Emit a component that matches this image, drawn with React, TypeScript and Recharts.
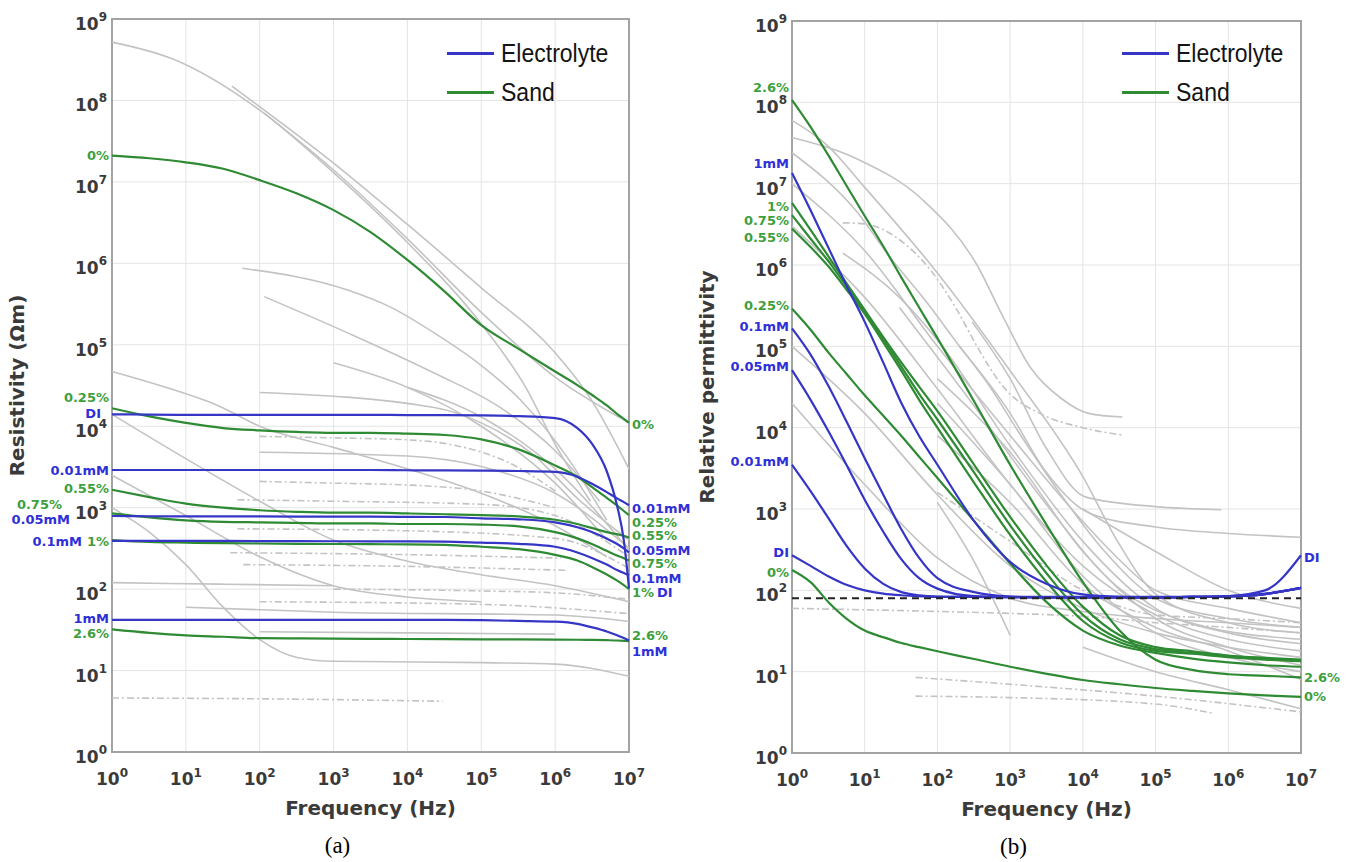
import React from 'react';
import { LineChart, Line, XAxis, YAxis, CartesianGrid, ReferenceLine, ReferenceArea, Legend } from 'recharts';

// ---------------- data ----------------
const X_TICKS = [1, 10, 100, 1e3, 1e4, 1e5, 1e6, 1e7];
const Y_TICKS = [1, 10, 100, 1e3, 1e4, 1e5, 1e6, 1e7, 1e8, 1e9];

// (a) resistivity (Ωm)
const RES_FREQ = [1, 3.2, 10, 32, 100, 320, 1e3, 3.2e3, 1e4, 3.2e4, 1e5, 3.2e5, 1e6, 2e6, 3.2e6, 5e6, 7e6, 8.5e6, 1e7];
const RES_SAND_0 = [2.1e7, 1.95e7, 1.74e7, 1.45e7, 1.05e7, 7.2e6, 4.5e6, 2.4e6, 1.1e6, 4.5e5, 1.74e5, 8.9e4, 4.7e4, 3.2e4, 2.4e4, 1.8e4, 1.4e4, 1.23e4, 1.1e4];
const RES_SAND_025 = [1.66e4, 1.32e4, 1.1e4, 9.5e3, 8.9e3, 8.5e3, 8.3e3, 8.3e3, 8.1e3, 7.8e3, 6.9e3, 5.2e3, 3.3e3, 2.4e3, 1.78e3, 1.32e3, 1.05e3, 910, 810];
const RES_SAND_055 = [1.66e3, 1.35e3, 1.12e3, 1e3, 930, 890, 870, 870, 850, 830, 810, 780, 710, 630, 560, 500, 470, 450, 430];
const RES_SAND_075 = [850, 760, 700, 670, 660, 650, 640, 640, 630, 630, 620, 590, 500, 420, 355, 295, 257, 240, 224];
const RES_SAND_1 = [400, 380, 372, 366, 363, 360, 358, 356, 355, 350, 331, 309, 263, 224, 186, 151, 126, 112, 100];
const RES_SAND_26 = [32, 29, 27, 26, 25, 24.8, 24.6, 24.5, 24.4, 24.3, 24.2, 24.1, 24, 23.9, 23.8, 23.6, 23.4, 23.2, 23];
const RES_EL_DI = [1.4e4, 1.39e4, 1.38e4, 1.38e4, 1.38e4, 1.38e4, 1.38e4, 1.38e4, 1.37e4, 1.37e4, 1.36e4, 1.33e4, 1.26e4, 9.5e3, 6e3, 2.8e3, 1e3, 400, 102];
const RES_EL_001 = [2.9e3, 2.9e3, 2.9e3, 2.9e3, 2.9e3, 2.9e3, 2.9e3, 2.9e3, 2.88e3, 2.87e3, 2.85e3, 2.82e3, 2.75e3, 2.4e3, 1.95e3, 1.55e3, 1.29e3, 1.17e3, 1.07e3];
const RES_EL_005 = [790, 785, 780, 780, 780, 778, 776, 775, 772, 768, 740, 720, 660, 575, 500, 417, 355, 316, 282];
const RES_EL_01 = [390, 390, 390, 390, 389, 388, 387, 386, 385, 383, 372, 360, 331, 282, 240, 200, 170, 158, 148];
const RES_EL_1 = [42, 42, 42, 42, 42, 42, 42, 42, 42, 41.8, 41.5, 40.7, 39.8, 37.5, 33.9, 30.2, 26.9, 25.1, 23.4];

// background (grey) resistivity curves: [frequency, value]
const RES_GRAY: number[][][] = [
  [[1, 5.2e8], [6.8, 3.2e8], [100, 7.6e7], [1e3, 1.3e7], [1e4, 1.8e6], [1e5, 1.8e5], [4e5, 3e4], [1e6, 6e3], [3e6, 1.2e3]],
  [[42, 1.5e8], [1e3, 1.7e7], [1e4, 3e6], [1e5, 5e5], [1e6, 8e4], [3e6, 2.2e4], [1e7, 3e3]],
  [[115, 7e7], [1e3, 1.4e7], [1e4, 2e6], [1e5, 2.5e5], [1e6, 4e4], [1e7, 1.1e4]],
  [[58, 8.7e5], [1550, 4.7e5], [5.9e3, 2.9e5], [2.3e4, 1.4e5], [9e4, 6e4], [3.4e5, 2.1e4], [1.5e6, 4e3], [5e6, 7e2]],
  [[115, 3.9e5], [1550, 1.4e5], [2.3e4, 4.5e4], [1.8e5, 1.7e4], [1e6, 5e3], [4e6, 1.2e3]],
  [[1, 4.7e4], [6.8, 2.8e4], [27, 1.8e4], [100, 1e4], [1e3, 5.5e3], [1e4, 3e3], [1e5, 1.5e3], [1e6, 6e2], [5e6, 2.5e2]],
  [[100, 2.6e4], [2.3e4, 1.7e4], [1e5, 1.1e4], [5e5, 4.5e3], [2e6, 1.3e3], [1e7, 4e2]],
  [[100, 7.5e3], [1e3, 7.2e3], [1e4, 6.8e3], [3e4, 6.2e3], [3e5, 3.2e3], [1e6, 1.6e3]],
  [[100, 4.8e3], [1e4, 4.3e3], [1e5, 3.2e3], [1e6, 1.5e3], [1e7, 3.2e2]],
  [[100, 2.1e3], [1e3, 2e3], [1e4, 1.9e3], [1e5, 1.6e3], [1e6, 1e3]],
  [[50, 1.25e3], [1e3, 1.2e3], [1e5, 1.1e3], [1e6, 8e2], [1e7, 2.5e2]],
  [[50, 5.5e2], [1e4, 5.2e2], [1e6, 4.2e2], [1e7, 1.8e2]],
  [[40, 2.8e2], [1e4, 2.65e2], [1.2e6, 2.4e2]],
  [[60, 2e2], [1e4, 1.9e2], [1.5e6, 1.7e2]],
  [[1, 1.2e2], [30, 1.15e2], [1e3, 1.1e2]],
  [[1e3, 1e2], [1e5, 9.5e1], [1e6, 9e1], [1e7, 7.5e1]],
  [[100, 7e1], [1e5, 6.5e1], [1e7, 5e1]],
  [[10, 6e1], [1e3, 5.2e1], [1e6, 4.8e1], [1e7, 4e1]],
  [[100, 3e1], [1e4, 2.9e1], [1e6, 2.8e1]],
  [[1, 1e3], [3.2, 5e2], [10, 2e2], [32, 6e1], [100, 2.4e1], [320, 1.45e1], [1e3, 1.3e1], [1e5, 1.25e1], [1e6, 1.2e1], [1e7, 8.5]],
  [[1, 4.6], [100, 4.5], [3e4, 4.2]],
  [[1, 1.4e4], [10, 4e3], [100, 1.2e3], [1e3, 4e2], [1e4, 2.2e2], [1e5, 1.5e2], [1e6, 1.1e2], [1e7, 7e1]],
  [[1, 2.5e3], [10, 8e2], [100, 2.5e2], [1e3, 1.1e2], [1e4, 8e1], [1e5, 7e1]],
  [[1e4, 3e4], [1e5, 1.3e4], [1e6, 3e3], [1e7, 3e2]],
  [[1e3, 6e4], [1e4, 3e4], [1e5, 1e4], [1e6, 2e3], [5e6, 4e2]],
];
const RES_GRAY_DASHED = [7, 9, 10, 11, 12, 13, 15, 16, 20];

// (b) relative permittivity
const PERM_FREQ = [1, 1.8, 3.2, 5.6, 10, 18, 32, 56, 100, 320, 1e3, 3.2e3, 1e4, 3.2e4, 1e5, 3.2e5, 1e6, 3.2e6, 1e7];
const PERM_SAND_26 = [1.07e8, 5e7, 2.2e7, 9.5e6, 4e6, 1.7e6, 7e5, 3e5, 1.26e5, 2.1e4, 3.5e3, 630, 126, 32, 14, 10.5, 9.3, 8.9, 8.5];
const PERM_SAND_1 = [5.8e6, 2.7e6, 1.26e6, 6e5, 2.8e5, 1.3e5, 6.3e4, 3.2e4, 1.6e4, 3.5e3, 800, 200, 63, 28, 20, 17.8, 15.8, 14.8, 14.1];
const PERM_SAND_075 = [4.1e6, 2.1e6, 1.1e6, 5.5e5, 2.6e5, 1.23e5, 5.6e4, 2.6e4, 1.26e4, 2.8e3, 630, 160, 50, 25, 19, 17, 15.5, 14.5, 13.8];
const PERM_SAND_055 = [2.8e6, 1.66e6, 9.5e5, 5e5, 2.5e5, 1.12e5, 5e4, 2.2e4, 1e4, 2.1e3, 480, 126, 42, 23, 18, 16.6, 15.1, 14.1, 13.5];
const PERM_SAND_025 = [2.9e5, 1.6e5, 8.3e4, 4.6e4, 2.5e4, 1.4e4, 7.9e3, 4.4e3, 2.4e3, 710, 214, 71, 32, 21, 17, 14.5, 13, 12, 11.5];
const PERM_SAND_0 = [178, 126, 71, 45, 32, 26.5, 22.5, 20, 17.8, 14.3, 11.5, 9.4, 7.9, 7.0, 6.3, 5.8, 5.4, 5.1, 4.9];
const PERM_EL_DI = [270, 200, 148, 117, 100, 91, 87, 85, 83, 83, 83, 83, 83, 83, 83, 83, 85, 100, 270];
const PERM_EL_001 = [3.5e3, 1.66e3, 760, 355, 186, 120, 95, 87, 84, 83, 82, 82, 82, 82, 82, 83, 84, 90, 107];
const PERM_EL_005 = [5.1e4, 2.2e4, 8.9e3, 3.5e3, 1.3e3, 525, 240, 141, 105, 85, 83, 82, 82, 82, 82, 83, 84, 90, 107];
const PERM_EL_01 = [1.66e5, 7.9e4, 3.2e4, 1.2e4, 4.2e3, 1.5e3, 560, 250, 141, 95, 84, 82, 82, 82, 82, 83, 84, 90, 107];
const PERM_EL_1 = [1.35e7, 4.7e6, 1.6e6, 5.6e5, 2e5, 6.3e4, 2e4, 7.9e3, 3.5e3, 710, 224, 120, 89, 83, 82, 83, 85, 91, 107];
const WATER_PERMITTIVITY = 80;

const PERM_GRAY: number[][][] = [
  [[1, 3.7e7], [8, 2e7], [63, 6.3e6], [350, 1e6], [800, 2.3e5], [1900, 5.5e4], [5000, 2.3e4], [1.2e4, 1.5e4], [3.5e4, 1.35e4]],
  [[5, 3.3e6], [10, 3.2e6], [31, 2e6], [80, 8.7e5], [186, 2.8e5], [350, 1e5], [800, 3.2e4], [3000, 1.4e4], [1e4, 1e4], [3.5e4, 8.1e3]],
  [[1, 2.4e7], [8, 4.4e6], [22, 1.26e6], [63, 4e5], [186, 1.1e5], [525, 3.2e4], [1260, 9.3e3], [5000, 1.5e3], [2e4, 300], [1e5, 80], [1e6, 45], [1e7, 35]],
  [[1, 6e7], [3, 3e7], [10, 9e6], [100, 8e5], [1e3, 5e4], [1e4, 2.5e3], [3e4, 400], [1e5, 90], [1e6, 40], [1e7, 30]],
  [[5, 1.4e6], [30, 4e5], [100, 1.2e5], [1e3, 6e3], [1e4, 400], [1e5, 60], [1e6, 30], [1e7, 22]],
  [[1, 1e7], [10, 1.5e6], [100, 1e5], [1e3, 8e3], [1e4, 700], [3e4, 250], [1e5, 100], [1e6, 60], [1e7, 40]],
  [[1, 3e6], [10, 4e5], [100, 3e4], [1e3, 2e3], [1e4, 200], [1e5, 50], [1e6, 25], [1e7, 18]],
  [[300, 2e5], [1e3, 4e4], [3e3, 6e3], [1.1e4, 1.4e3], [1e5, 1.07e3], [8e5, 9.8e2]],
  [[200, 1e5], [1e3, 1.5e4], [3e3, 3e3], [1.2e4, 9e2], [1e5, 6e2], [1e6, 5e2], [1e7, 4.5e2]],
  [[100, 1.2e3], [300, 2.5e2], [1e3, 2.8e1]],
  [[1, 6e1], [100, 5.5e1], [1e3, 5.2e1], [1e4, 4.8e1], [1e5, 4e1], [1e6, 3.5e1], [1e7, 3e1]],
  [[50, 8.5], [1e3, 7], [1e5, 5], [1e7, 3.2]],
  [[50, 5], [1e3, 4.8], [1e5, 4], [6e5, 3.1]],
  [[100, 2e4], [1e3, 2e3], [1e4, 150], [1e5, 30], [1e6, 15], [1e7, 10]],
  [[100, 4e4], [1e3, 5e3], [1e4, 300], [1e5, 45], [1e6, 20], [1e7, 12]],
  [[100, 8e3], [1e3, 1.2e3], [1e4, 120], [1e5, 35], [1e6, 18], [1e7, 8]],
  [[30, 3e5], [300, 2e4], [3e3, 1.2e3], [3e4, 110], [3e5, 40], [1e7, 25]],
  [[1, 1e5], [10, 1.5e4], [100, 1.5e3], [1e3, 200], [1e4, 60], [1e5, 30], [1e6, 20], [1e7, 15]],
  [[1, 2e4], [10, 2e3], [100, 250], [1e3, 80], [1e4, 55], [1e5, 45], [1e6, 40], [1e7, 35]],
  [[100, 1.6e3], [1e3, 400], [1e4, 100], [1e5, 50], [1e6, 45], [1e7, 40]],
  [[1e4, 1e3], [1e5, 300], [1e6, 100], [1e7, 60]],
  [[1e4, 20], [1e5, 10], [1e6, 6], [1e7, 3.5]],
];
const PERM_GRAY_DASHED = [1, 10, 11, 12, 19];

const LEGEND_NAMES = ['Electrolyte', 'Sand'];

// ---------------- style ----------------
const BLUE = '#3535c6';
const GREEN = '#2f8a34';
const BLUE_TXT = '#2f2fd8';
const GREEN_TXT = '#3d9f3d';
const GRAY = '#c3c3c3';
const FONT = 'DejaVu Sans, Verdana, sans-serif';
const TXT = '#3a3a3a';

type Meta = { label: string; kind: 'el' | 'sand'; values: number[]; left?: [number, number]; right?: [number, number] };

const RES_SERIES: Meta[] = [
  { label: '0%', kind: 'sand', values: RES_SAND_0, left: [-3, 0], right: [3, 2] },
  { label: '0.25%', kind: 'sand', values: RES_SAND_025, left: [-3, -11], right: [3, 7] },
  { label: '0.55%', kind: 'sand', values: RES_SAND_055, left: [-3, -1], right: [3, -2] },
  { label: '0.75%', kind: 'sand', values: RES_SAND_075, left: [-50, -9], right: [3, 3] },
  { label: '1%', kind: 'sand', values: RES_SAND_1, left: [-3, 1], right: [3, 3] },
  { label: '2.6%', kind: 'sand', values: RES_SAND_26, left: [-3, 4], right: [3, -6] },
  { label: 'DI', kind: 'el', values: RES_EL_DI, left: [-11, -1], right: [28, 4] },
  { label: '0.01mM', kind: 'el', values: RES_EL_001, left: [-3, 0], right: [3, 3] },
  { label: '0.05mM', kind: 'el', values: RES_EL_005, left: [-42, 3], right: [3, -2] },
  { label: '0.1mM', kind: 'el', values: RES_EL_01, left: [-30, 1], right: [3, 3] },
  { label: '1mM', kind: 'el', values: RES_EL_1, left: [-3, -1], right: [3, 11] },
];

const PERM_SERIES: Meta[] = [
  { label: '2.6%', kind: 'sand', values: PERM_SAND_26, left: [-3, -12], right: [3, 0] },
  { label: '1%', kind: 'sand', values: PERM_SAND_1, left: [-3, 4] },
  { label: '0.75%', kind: 'sand', values: PERM_SAND_075, left: [-3, 5] },
  { label: '0.55%', kind: 'sand', values: PERM_SAND_055, left: [-3, 9] },
  { label: '0.25%', kind: 'sand', values: PERM_SAND_025, left: [-3, -3] },
  { label: '0%', kind: 'sand', values: PERM_SAND_0, left: [-3, 3], right: [3, 0] },
  { label: '1mM', kind: 'el', values: PERM_EL_1, left: [-3, -10] },
  { label: '0.1mM', kind: 'el', values: PERM_EL_01, left: [-3, -2] },
  { label: '0.05mM', kind: 'el', values: PERM_EL_005, left: [-3, -4] },
  { label: '0.01mM', kind: 'el', values: PERM_EL_001, left: [-3, -3] },
  { label: 'DI', kind: 'el', values: PERM_EL_DI, left: [-3, -3], right: [3, 2] },
];

// ---------------- components ----------------
const XTick = (p: any) => {
  const v = p?.payload?.value ?? 1;
  const e = Math.round(Math.log10(v));
  return (
    <text x={p.x} y={p.y + 33} textAnchor="middle" fill={TXT} fontFamily={FONT} fontWeight="bold" fontSize={17}>
      10<tspan dy={-8} fontSize={12}>{e}</tspan>
    </text>
  );
};

const YTick = (p: any) => {
  const v = p?.payload?.value ?? 1;
  const e = Math.round(Math.log10(v));
  return (
    <text x={p.x - 5} y={p.y + 11} textAnchor="end" fill={TXT} fontFamily={FONT} fontWeight="bold" fontSize={17}>
      10<tspan dy={-9} fontSize={12}>{e}</tspan>
    </text>
  );
};

const YTitle = (p: any) => (
  <text
    x={p.cx}
    y={p.cy}
    transform={`rotate(-90 ${p.cx} ${p.cy})`}
    textAnchor="middle"
    dominantBaseline="central"
    fill={TXT}
    fontFamily={FONT}
    fontWeight="bold"
    fontSize={20}
  >
    {p.text}
  </text>
);

const XTitle = (p: any) => (
  <g>
    <text x={p.cx} y={p.ty} textAnchor="middle" fill={TXT} fontFamily={FONT} fontWeight="bold" fontSize={20}>
      Frequency (Hz)
    </text>
    <text x={p.cx + p.capDx} y={p.cy} textAnchor="middle" fill="#000" fontFamily="Liberation Serif, Times New Roman, serif" fontSize={23}>
      {p.caption}
    </text>
  </g>
);

const LegendBox = () => (
  <div style={{ fontFamily: 'Liberation Sans, Arial, sans-serif', fontSize: 23, color: '#141414' }}>
    {LEGEND_NAMES.map((name, i) => (
      <div key={name} style={{ display: 'flex', alignItems: 'center', height: 39 }}>
        <div style={{ width: 47, height: 3, background: i === 0 ? BLUE : GREEN, marginRight: 7 }} />
        <span style={{ lineHeight: '39px', display: 'inline-block', transform: 'scaleY(1.15)' }}>{name}</span>
      </div>
    ))}
  </div>
);

const makeLabel = (s: Meta, n: number) => (p: any) => {
  const x = p?.x ?? p?.viewBox?.x;
  const y = p?.y ?? p?.viewBox?.y;
  const idx = p?.index;
  if (x == null || y == null) return null;
  const color = s.kind === 'el' ? BLUE_TXT : GREEN_TXT;
  const common = {
    fill: color,
    fontFamily: FONT,
    fontWeight: 'bold' as const,
    fontSize: 13,
    dominantBaseline: 'central' as const,
  };
  if (idx === 0 && s.left) {
    return (
      <text x={x + s.left[0]} y={y + s.left[1]} textAnchor="end" {...common}>
        {s.label}
      </text>
    );
  }
  if (idx === n - 1 && s.right) {
    return (
      <text x={x + s.right[0]} y={y + s.right[1]} textAnchor="start" {...common}>
        {s.label}
      </text>
    );
  }
  return null;
};

type PanelProps = {
  left: number;
  width: number;
  yAxisWidth: number;
  top: number;
  bottom: number;
  right: number;
  freq: number[];
  series: Meta[];
  gray: number[][][];
  grayDashed: number[];
  yTitle: string;
  yTitleX: number;
  caption: string;
  captionDx: number;
  legendLeft: number;
  refY?: number;
};

function Panel(props: PanelProps) {
  const H = 862;
  const plotLeft = props.yAxisWidth;
  const plotRight = props.width - props.right;
  const cx = (plotLeft + plotRight) / 2;
  const cy = (props.top + props.bottom) / 2;
  const sand = props.series.filter((s) => s.kind === 'sand');
  const el = props.series.filter((s) => s.kind === 'el');
  const renderSeries = (s: Meta, i: number) => {
    const rows = props.freq.map((f, k) => ({ f, v: s.values[k] }));
    return (
      <Line
        key={`${s.kind}-${s.label}-${i}`}
        data={rows}
        dataKey="v"
        type="monotone"
        stroke={s.kind === 'el' ? BLUE : GREEN}
        strokeWidth={2.2}
        dot={false}
        activeDot={false}
        isAnimationActive={false}
        label={makeLabel(s, rows.length)}
      />
    );
  };
  return (
    <div style={{ position: 'absolute', left: props.left, top: 0 }}>
      <LineChart width={props.width} height={H} margin={{ top: props.top, right: props.right, bottom: 0, left: 0 }}>
        <CartesianGrid stroke="#e4e4e4" strokeWidth={1} />
        <XAxis
          dataKey="f"
          type="number"
          scale="log"
          domain={[1, 1e7]}
          ticks={X_TICKS}
          interval={0}
          height={H - props.bottom}
          axisLine={false}
          tickLine={false}
          tickSize={0}
          tickMargin={0}
          tick={<XTick />}
          label={<XTitle cx={cx} ty={props.bottom + 63} cy={props.bottom + 101} caption={props.caption} capDx={props.captionDx} />}
        />
        <YAxis
          type="number"
          scale="log"
          domain={[1, 1e9]}
          ticks={Y_TICKS}
          interval={0}
          width={props.yAxisWidth}
          axisLine={false}
          tickLine={false}
          tickSize={0}
          tickMargin={0}
          tick={<YTick />}
          label={<YTitle cx={props.yTitleX} cy={cy} text={props.yTitle} />}
        />
        <ReferenceArea x1={1} x2={1e7} y1={1} y2={1e9} fill="none" fillOpacity={0} stroke="#a3a3a3" strokeWidth={2} />
        {props.gray.map((pts, i) => (
          <Line
            key={`g-${i}`}
            data={pts.map(([f, v]) => ({ f, v }))}
            dataKey="v"
            type="monotone"
            stroke={GRAY}
            strokeWidth={1.6}
            strokeDasharray={props.grayDashed.includes(i) ? '7 3 2 3' : undefined}
            dot={false}
            activeDot={false}
            isAnimationActive={false}
          />
        ))}
        {sand.map(renderSeries)}
        {el.map(renderSeries)}
        {props.refY != null && (
          <ReferenceLine y={props.refY} stroke="#222" strokeWidth={2} strokeDasharray="7 5" />
        )}
        <Legend
          layout="vertical"
          align="center"
          verticalAlign="middle"
          content={() => <LegendBox />}
          wrapperStyle={{ left: props.legendLeft, top: 34, width: 'auto', height: 'auto' }}
        />
      </LineChart>
    </div>
  );
}

export default function App() {
  return (
    <div style={{ position: 'absolute', left: 0, top: 0, width: 1353, height: 862, background: '#fff', overflow: 'hidden' }}>
      <Panel
        left={0}
        width={700}
        yAxisWidth={112}
        top={19}
        bottom={752}
        right={71}
        freq={RES_FREQ}
        series={RES_SERIES}
        gray={RES_GRAY}
        grayDashed={RES_GRAY_DASHED}
        yTitle="Resistivity (Ωm)"
        yTitleX={17}
        caption="(a)"
        captionDx={-33}
        legendLeft={447}
      />
      <Panel
        left={690}
        width={663}
        yAxisWidth={102}
        top={21}
        bottom={753}
        right={52}
        freq={PERM_FREQ}
        series={PERM_SERIES}
        gray={PERM_GRAY}
        grayDashed={PERM_GRAY_DASHED}
        yTitle="Relative permittivity"
        yTitleX={17}
        caption="(b)"
        captionDx={-33}
        legendLeft={432}
        refY={WATER_PERMITTIVITY}
      />
    </div>
  );
}
